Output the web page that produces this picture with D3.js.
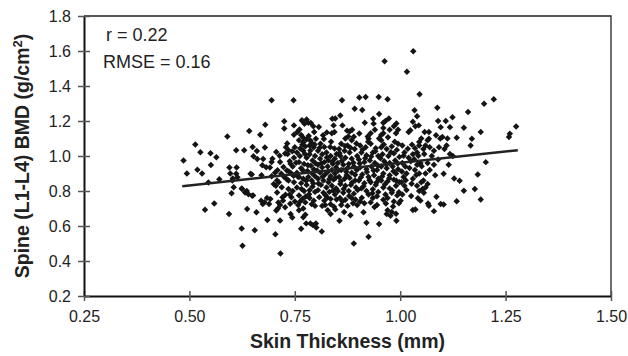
<!DOCTYPE html>
<html>
<head>
<meta charset="utf-8">
<script src="https://cdn.jsdelivr.net/npm/d3@7"></script>
<style>
  html, body { margin: 0; padding: 0; background: #fff; }
  svg { display: block; font-family: "Liberation Sans", Arial, sans-serif; }
</style>
</head>
<body>
<svg id="chart" width="628" height="356"></svg>
<script>
// skin thickness (mm) vs spine BMD (g/cm2)
const points = [
  // 0.48 - 0.60
  [0.486,0.974],[0.494,0.900],[0.514,1.066],[0.519,0.921],[0.526,1.022],[0.530,0.900],[0.537,0.693],
  [0.545,0.848],[0.550,1.016],[0.551,0.949],[0.559,0.728],[0.564,0.993],[0.571,0.867],[0.590,1.112],
  [0.594,0.668],[0.595,0.934],[0.597,0.900],[0.603,0.871],
  // 0.60 - 0.70
  [0.602,0.860],[0.605,0.821],[0.611,1.033],[0.612,0.934],[0.611,0.899],[0.614,0.879],[0.600,0.787],
  [0.624,0.586],[0.626,0.487],[0.625,0.811],[0.630,1.033],[0.632,0.792],[0.637,0.697],[0.640,0.782],
  [0.642,1.143],[0.645,0.898],[0.649,0.773],[0.624,0.815],[0.636,0.800],[0.651,0.775],[0.648,0.895],
  [0.650,1.051],[0.655,0.576],[0.652,0.998],[0.659,0.678],[0.668,1.122],[0.660,1.029],[0.661,0.983],
  [0.673,0.947],[0.674,0.726],[0.679,1.048],[0.680,1.179],[0.675,0.983],[0.671,0.890],[0.685,0.634],
  [0.689,0.726],[0.692,0.754],[0.695,1.318],[0.695,0.966],[0.691,0.934],[0.697,0.985],[0.695,0.884],
  [0.682,0.936],[0.670,0.745],[0.678,0.736],[0.684,0.760],
  // 0.70 - 0.75
  [0.704,0.553],[0.716,0.443],[0.706,1.023],[0.727,1.014],[0.715,0.966],[0.709,0.918],[0.725,1.198],
  [0.725,1.157],[0.732,1.071],[0.735,1.033],[0.748,1.175],[0.748,1.122],[0.747,1.318],[0.715,0.632],
  [0.706,0.688],[0.711,0.735],[0.718,0.898],[0.721,0.764],[0.727,0.707],[0.729,1.050],[0.731,0.917],
  [0.733,1.012],[0.735,0.811],[0.740,0.668],[0.742,0.764],[0.744,0.649],[0.710,0.700],[0.715,0.720],
  [0.722,0.745],[0.705,0.830],[0.712,0.850],[0.708,0.860],[0.700,0.840],[0.740,0.955],[0.745,0.940],
  [0.738,0.970],[0.725,0.880],[0.735,0.860],[0.742,0.900],[0.748,0.850],[0.745,0.800],[0.738,0.780],
  [0.750,0.740],[0.748,0.990],[0.750,1.050],
  [0.703,0.905],[0.708,0.792],[0.714,1.002],[0.719,0.822],[0.723,0.937],[0.728,0.778],[0.731,0.867],
  [0.736,0.912],[0.739,0.727],[0.744,1.027],[0.747,0.887],
  // 0.75 - 0.80
  [0.768,1.200],[0.778,1.208],[0.788,1.189],[0.794,1.170],[0.761,1.151],[0.767,1.204],[0.756,1.137],
  [0.773,1.184],[0.782,1.190],[0.796,1.137],[0.770,1.079],[0.787,1.089],[0.800,1.098],[0.765,1.120],
  [0.770,1.105],[0.778,1.095],[0.783,1.115],[0.790,1.075],[0.785,1.060],[0.775,1.055],[0.795,1.050],
  [0.760,1.090],[0.768,1.065],[0.755,1.020],[0.762,1.000],[0.770,1.030],[0.778,0.990],[0.785,1.010],
  [0.792,0.975],[0.798,1.000],[0.760,0.965],[0.772,0.955],[0.788,0.945],[0.795,0.925],[0.765,0.930],
  [0.780,0.915],[0.755,0.905],[0.760,0.880],[0.770,0.870],[0.782,0.880],[0.790,0.860],[0.798,0.885],
  [0.765,0.845],[0.778,0.835],[0.792,0.825],[0.755,0.820],[0.772,0.800],[0.785,0.805],[0.798,0.795],
  [0.760,0.775],[0.768,0.755],[0.775,0.735],[0.785,0.760],[0.795,0.745],[0.758,0.720],[0.770,0.700],
  [0.775,0.665],[0.770,0.650],[0.790,0.725],[0.798,0.715],[0.765,0.584],[0.777,0.615],[0.787,0.615],
  [0.793,0.605],[0.800,0.614],[0.801,0.592],[0.760,0.690],
  [0.753,0.962],[0.757,0.883],[0.763,1.043],[0.766,0.812],[0.769,0.918],[0.774,1.012],[0.777,0.858],
  [0.781,0.947],[0.784,0.782],[0.787,1.031],[0.791,0.902],[0.794,0.843],[0.797,1.066],[0.799,0.958],
  [0.776,0.768],[0.762,0.738],
  // 0.80 - 0.85
  [0.807,1.166],[0.811,1.070],[0.820,1.051],[0.839,1.213],[0.842,1.175],[0.844,1.137],[0.834,1.051],
  [0.849,1.012],[0.826,1.135],[0.838,1.130],[0.846,1.214],[0.805,1.030],[0.815,1.010],[0.825,1.020],
  [0.835,1.000],[0.845,0.985],[0.810,0.985],[0.820,0.965],[0.830,0.975],[0.840,0.955],[0.805,0.950],
  [0.815,0.935],[0.828,0.940],[0.838,0.920],[0.848,0.935],[0.810,0.905],[0.822,0.895],[0.835,0.885],
  [0.845,0.900],[0.805,0.870],[0.818,0.860],[0.830,0.850],[0.842,0.865],[0.812,0.835],[0.825,0.820],
  [0.838,0.830],[0.848,0.815],[0.805,0.805],[0.818,0.790],[0.832,0.795],[0.845,0.780],[0.808,0.765],
  [0.820,0.745],[0.835,0.755],[0.815,0.715],[0.822,0.720],[0.835,0.725],[0.843,0.710],[0.814,0.569],
  [0.835,0.668],[0.846,0.695],[0.828,0.690],
  [0.803,0.917],[0.806,0.843],[0.809,1.047],[0.813,0.958],[0.816,0.882],[0.819,1.097],[0.823,0.776],
  [0.826,0.992],[0.829,0.911],[0.832,0.868],[0.836,1.082],[0.839,0.967],[0.841,0.803],[0.844,1.043],
  [0.847,0.876],[0.849,0.752],[0.817,1.118],[0.827,0.763],
  // 0.85 - 0.90
  [0.858,1.232],[0.862,1.318],[0.863,1.175],[0.874,1.145],[0.886,1.150],[0.880,1.140],[0.892,1.270],
  [0.870,1.100],[0.885,1.090],[0.860,1.070],[0.875,1.060],[0.890,1.110],[0.855,1.040],[0.868,1.030],
  [0.880,1.020],[0.892,1.040],[0.858,1.000],[0.870,0.990],[0.885,0.985],[0.898,1.000],[0.852,0.960],
  [0.865,0.950],[0.878,0.955],[0.890,0.940],[0.860,0.920],[0.872,0.910],[0.885,0.905],[0.897,0.920],
  [0.855,0.880],[0.868,0.870],[0.880,0.875],[0.893,0.860],[0.858,0.840],[0.870,0.830],[0.883,0.835],
  [0.895,0.820],[0.852,0.800],[0.865,0.790],[0.878,0.800],[0.890,0.785],[0.857,0.760],[0.870,0.750],
  [0.885,0.760],[0.860,0.720],[0.875,0.715],[0.888,0.730],[0.856,0.630],[0.882,0.661],[0.890,0.500],
  [0.898,0.720],[0.867,0.680],
  [0.853,0.917],[0.856,1.016],[0.859,0.856],[0.862,0.973],[0.866,0.812],[0.869,1.057],[0.873,0.891],
  [0.876,0.933],[0.879,0.772],[0.882,1.047],[0.886,0.848],[0.889,0.962],[0.893,0.893],[0.896,1.071],
  [0.899,0.806],[0.863,0.741],[0.877,1.112],[0.894,0.752],
  // 0.90 - 0.95
  [0.903,1.334],[0.918,1.337],[0.910,1.263],[0.916,1.190],[0.936,1.213],[0.937,1.185],[0.949,1.337],
  [0.950,1.240],[0.903,1.128],[0.925,1.099],[0.950,1.100],[0.955,1.120],[0.940,1.150],[0.930,1.130],
  [0.905,1.060],[0.918,1.050],[0.930,1.070],[0.942,1.045],[0.908,1.020],[0.920,1.005],[0.935,1.020],
  [0.948,1.000],[0.902,0.980],[0.915,0.965],[0.928,0.975],[0.940,0.960],[0.905,0.935],[0.920,0.925],
  [0.932,0.940],[0.945,0.920],[0.910,0.895],[0.925,0.880],[0.938,0.890],[0.948,0.870],[0.902,0.860],
  [0.915,0.845],[0.930,0.850],[0.942,0.835],[0.908,0.815],[0.920,0.800],[0.935,0.810],[0.948,0.795],
  [0.925,0.780],[0.945,0.770],[0.935,0.760],[0.905,0.740],[0.915,0.730],[0.930,0.735],[0.945,0.720],
  [0.913,0.679],[0.920,0.618],[0.925,0.538],[0.950,0.612],
  [0.904,0.957],[0.907,0.878],[0.911,1.037],[0.913,0.827],[0.917,0.987],[0.921,0.908],[0.924,1.082],
  [0.927,0.862],[0.931,0.997],[0.934,0.787],[0.937,0.917],[0.941,1.027],[0.944,0.848],[0.947,0.946],
  [0.909,0.762],[0.939,0.708],[0.923,1.112],
  // 0.95 - 1.00
  [0.963,1.542],[0.970,1.324],[0.973,1.214],[0.960,1.190],[0.991,1.186],[0.960,1.160],[0.960,1.130],
  [0.985,1.170],[0.995,1.150],[0.965,1.200],[0.975,1.150],[0.990,1.130],[0.995,1.070],[0.955,1.090],
  [0.955,1.050],[0.968,1.040],[0.980,1.055],[0.992,1.035],[0.958,1.010],[0.972,1.000],[0.985,1.015],
  [0.998,0.995],[0.962,0.970],[0.975,0.960],[0.988,0.975],[0.955,0.940],[0.968,0.930],[0.982,0.940],
  [0.995,0.925],[0.960,0.900],[0.975,0.890],[0.990,0.900],[0.955,0.860],[0.970,0.855],[0.985,0.865],
  [0.998,0.850],[0.960,0.820],[0.975,0.815],[0.990,0.830],[0.965,0.780],[0.980,0.790],[0.993,0.775],
  [0.960,0.750],[0.970,0.760],[0.985,0.740],[0.997,0.730],[0.970,0.690],[0.980,0.680],[0.990,0.670],
  [0.968,0.668],[0.977,0.659],[0.991,0.630],[1.001,0.745],
  [0.953,0.987],[0.957,0.883],[0.961,1.066],[0.964,0.838],[0.967,0.952],[0.971,1.107],[0.974,0.873],
  [0.978,1.022],[0.981,0.803],[0.984,0.913],[0.987,1.082],[0.991,0.858],[0.994,0.957],[0.997,0.793],
  [0.966,0.728],[0.983,0.712],
  // 1.00 - 1.05
  [1.031,1.599],[1.016,1.481],[1.046,1.353],[1.034,1.261],[1.040,1.227],[1.030,1.196],[1.044,1.175],
  [1.036,1.170],[1.020,1.137],[1.024,1.147],[1.028,1.065],[1.035,1.045],[1.040,1.020],[1.030,1.010],
  [1.045,1.080],[1.050,1.100],[1.045,1.060],[1.005,1.060],[1.010,1.020],[1.005,0.960],[1.012,0.940],
  [1.015,0.900],[1.008,0.880],[1.003,0.850],[1.010,0.830],[1.015,0.806],[1.005,0.780],[1.030,0.870],
  [1.035,0.920],[1.040,0.950],[1.045,0.900],[1.048,0.960],[1.025,0.970],[1.020,0.990],[1.030,0.691],
  [1.036,0.694],[1.048,0.745],[1.045,0.800],[1.040,0.830],
  [1.004,0.912],[1.008,1.002],[1.013,0.862],[1.018,1.042],[1.022,0.932],[1.027,0.842],[1.033,0.982],
  [1.038,0.892],[1.043,1.002],[1.051,0.942],[1.057,1.012],[1.026,0.772],[1.042,0.758],
  // 1.05 - 1.10
  [1.053,0.811],[1.056,0.790],[1.060,0.820],[1.050,0.850],[1.055,0.860],[1.065,0.840],[1.066,0.728],
  [1.068,0.716],[1.080,0.685],[1.086,0.767],[1.083,0.890],[1.058,1.137],[1.068,1.137],[1.068,1.098],
  [1.060,1.060],[1.065,1.090],[1.055,1.040],[1.070,1.050],[1.075,1.000],[1.080,1.030],[1.085,1.118],
  [1.088,1.276],[1.090,1.200],[1.095,1.100],[1.092,1.050],[1.096,1.165],[1.100,1.108],[1.096,0.726],
  [1.070,0.920],[1.065,0.960],[1.090,0.980],[1.080,0.950],[1.060,0.900],
  // 1.10 - 1.30
  [1.103,0.723],[1.103,0.898],[1.105,1.040],[1.108,1.200],[1.110,1.060],[1.118,1.165],[1.118,1.012],
  [1.124,1.221],[1.128,0.871],[1.134,1.104],[1.134,0.742],[1.141,0.859],[1.151,1.162],[1.151,0.801],
  [1.161,1.251],[1.167,1.060],[1.170,1.098],[1.177,0.812],[1.184,0.894],[1.191,1.137],[1.191,0.751],
  [1.199,1.299],[1.203,0.965],[1.222,1.324],[1.258,1.108],[1.260,1.127],[1.275,1.169],[1.115,0.950],
  [1.112,1.100],[1.125,1.000]
];

const trendX = [0.483, 1.279];
const trendY = [0.827, 1.033];

const xTicks = [0.25, 0.50, 0.75, 1.00, 1.25, 1.50];
const yTicks = [0.2, 0.4, 0.6, 0.8, 1.0, 1.2, 1.4, 1.6, 1.8];
const statLines = ['r = 0.22', 'RMSE = 0.16'];

const svg = d3.select('#chart');
const margin = { top: 16, right: 17, bottom: 60, left: 84 };
const width = +svg.attr('width') - margin.left - margin.right;
const height = +svg.attr('height') - margin.top - margin.bottom;
const g = svg.append('g').attr('transform', 'translate(' + margin.left + ',' + margin.top + ')');

const x = d3.scaleLinear().domain([0.25, 1.5]).range([0, width]);
const y = d3.scaleLinear().domain([0.2, 1.8]).range([height, 0]);

// frame (top and right)
g.append('path')
  .attr('d', 'M0,0H' + width + 'V' + height)
  .attr('fill', 'none')
  .attr('stroke', '#222')
  .attr('stroke-width', 1.3);

// x axis
const xAxis = g.append('g')
  .attr('transform', 'translate(0,' + height + ')')
  .call(d3.axisBottom(x).tickValues(xTicks).tickFormat(d3.format('.2f')).tickSizeInner(5).tickSizeOuter(0).tickPadding(10));
xAxis.selectAll('.tick line').attr('y1', -5).attr('stroke', '#555').attr('stroke-width', 1.5);

// y axis
const yAxis = g.append('g')
  .call(d3.axisLeft(y).tickValues(yTicks).tickFormat(d3.format('.1f')).tickSizeInner(6).tickSizeOuter(0).tickPadding(7));
yAxis.selectAll('.tick line').attr('x1', 6).attr('stroke', '#555').attr('stroke-width', 1.5);

svg.selectAll('.domain').attr('stroke', '#111').attr('stroke-width', 2);
svg.selectAll('.tick text')
  .attr('font-family', '"Liberation Sans", Arial, sans-serif')
  .attr('font-size', 16)
  .attr('fill', '#222');

// points
g.append('g')
  .selectAll('path')
  .data(points)
  .enter()
  .append('path')
  .attr('d', d3.symbol().type(d3.symbolSquare).size(21))
  .attr('transform', function(d) {
    return 'translate(' + x(d[0]) + ',' + y(d[1]) + ') rotate(45)';
  })
  .attr('fill', '#141414');

// regression line
g.append('line')
  .attr('x1', x(trendX[0]))
  .attr('y1', y(trendY[0]))
  .attr('x2', x(trendX[1]))
  .attr('y2', y(trendY[1]))
  .attr('stroke', '#222')
  .attr('stroke-width', 2.5);

// r and RMSE
g.selectAll('.stat')
  .data(statLines)
  .enter()
  .append('text')
  .attr('class', 'stat')
  .attr('x', function(d, i) { return i === 0 ? 22 : 19; })
  .attr('y', function(d, i) { return 25 + i * 27; })
  .attr('font-size', 18)
  .attr('fill', '#222')
  .text(function(d) { return d; });

// axis titles
svg.append('text')
  .attr('x', margin.left + width / 2)
  .attr('y', 348)
  .attr('text-anchor', 'middle')
  .attr('font-size', 19.5)
  .attr('font-weight', 'bold')
  .attr('fill', '#222')
  .text('Skin Thickness (mm)');

const yTitle = svg.append('text')
  .attr('transform', 'translate(29,' + (margin.top + height / 2) + ') rotate(-90)')
  .attr('text-anchor', 'middle')
  .attr('font-size', 19.5)
  .attr('font-weight', 'bold')
  .attr('fill', '#222');
yTitle.append('tspan').text('Spine (L1-L4) BMD (g/cm');
yTitle.append('tspan').attr('dy', -7).attr('font-size', 13).text('2');
yTitle.append('tspan').attr('dy', 7).text(')');
</script>
</body>
</html>
